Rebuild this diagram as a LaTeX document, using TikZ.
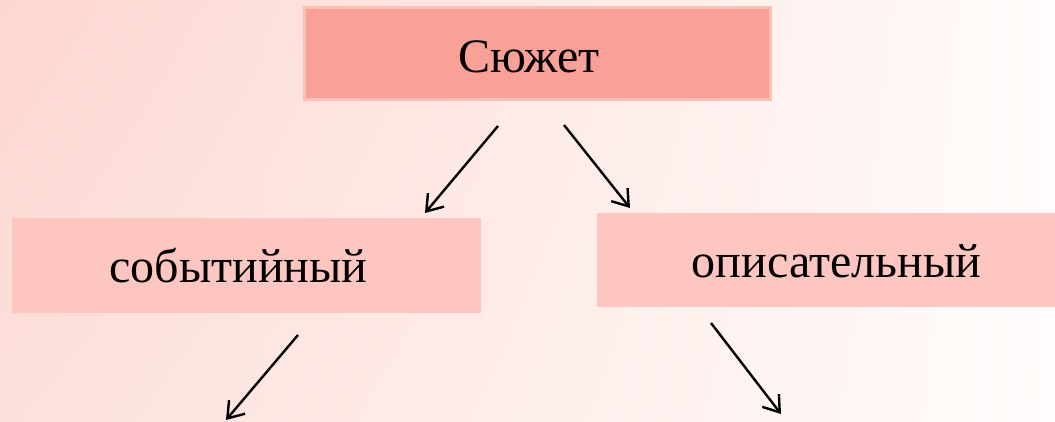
\documentclass[tikz,border=0pt]{standalone}
\usepackage{fontspec}
\setmainfont{Liberation Serif}
\usetikzlibrary{arrows.meta,shadings}
\definecolor{bgUL}{HTML}{FDD6D0}
\definecolor{bgLL}{HTML}{FDE0DB}
\definecolor{bgR}{HTML}{FFFCFB}
\definecolor{topfill}{HTML}{F9A197}
\definecolor{topedge}{HTML}{FDC0B8}
\definecolor{subfill}{HTML}{FDC6C0}
\begin{document}
\begin{tikzpicture}[x=1pt,y=-1pt,
  topbox/.style={draw=topedge,line width=3pt,fill=topfill,inner sep=0pt},
  subbox/.style={draw=none,fill=subfill,inner sep=0pt},
  lbl/.style={anchor=base,inner sep=0pt,font=\fontsize{48}{52}\selectfont},
  conn/.style={line width=2.4pt,-{Straight Barb[length=15pt,width=21pt]}}]
\useasboundingbox (0,0) rectangle (1055,422);
\shade[upper left=bgUL,lower left=bgLL,upper right=bgR,lower right=bgR] (0,0) rectangle (1055,422);
% boxes
\node[topbox,minimum width=466pt,minimum height=92pt] (top) at (537,54) {};
\node[subbox,minimum width=469pt,minimum height=95pt] (left) at (246.5,265.5) {};
\node[subbox,minimum width=460pt,minimum height=94pt] (right) at (827,260) {};
% texts
\node[lbl] (toptext) at (529,73) {Сюжет};
\node[lbl] (lefttext) at (238.5,282) {событийный};
\node[lbl] (righttext) at (836.5,277) {описательный};
% arrow coordinates
\coordinate (a1s) at (498,126);
\coordinate (a1e) at (425,213);
\coordinate (a2s) at (564,125);
\coordinate (a2e) at (630,208);
\coordinate (a3s) at (298,335);
\coordinate (a3e) at (226,420);
\coordinate (a4s) at (711,323);
\coordinate (a4e) at (781,414);
\draw[conn] (a1s) -- (a1e);
\draw[conn] (a2s) -- (a2e);
\draw[conn] (a3s) -- (a3e);
\draw[conn] (a4s) -- (a4e);
\end{tikzpicture}
\end{document}
